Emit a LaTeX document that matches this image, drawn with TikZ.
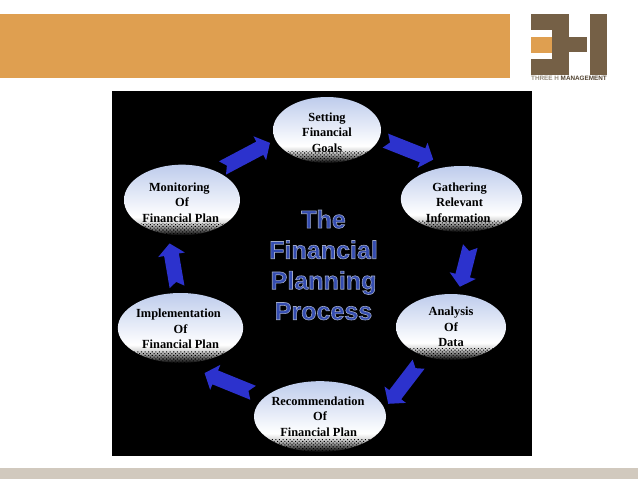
\documentclass[tikz,border=0pt]{standalone}
\usepackage{fontspec}
\setmainfont{Liberation Serif}
\newfontfamily\titlefont{Liberation Sans}
\usetikzlibrary{shapes.geometric,calc,patterns.meta}
\definecolor{bandorange}{RGB}{223,159,80}
\definecolor{bandgrey}{RGB}{209,201,190}
\definecolor{logobrown}{RGB}{117,96,70}
\definecolor{logogrey}{RGB}{150,140,125}
\definecolor{flowblue}{RGB}{44,50,205}
\definecolor{titleblue}{RGB}{52,76,176}
\definecolor{balltop}{RGB}{190,204,236}
\pgfdeclareverticalshading{ballfill}{100bp}{
  color(0bp)=(black);
  color(25bp)=(black);
  color(30bp)=(black!50);
  color(34bp)=(black!15);
  color(38bp)=(white);
  color(75bp)=(balltop);
  color(100bp)=(balltop)}
\def\pxu{0.75pt}
\tikzset{
  ball/.style={ellipse,shade,shading=ballfill,inner sep=0pt,align=center,
    text=black,font=\bfseries\fontsize{9.3}{11.7}\selectfont,
    path picture={\fill[pattern={Dots[distance=1.9pt,radius=.55pt,angle=45]},pattern color=black]
      ([yshift=9pt]path picture bounding box.south west) rectangle
      (path picture bounding box.south east);}},
  flowfill/.style={fill=flowblue}
}
\newcommand\blockarrow[4]{%
  \coordinate (ba) at ($(#1)!#3*\pxu!(#2)$);
  \coordinate (bt) at ($(#2)!#4*\pxu!(#1)$);
  \coordinate (bh) at ($(bt)!11.5*\pxu!(ba)$);
  \fill[flowfill] ($(ba)!7.5*\pxu!90:(bt)$) -- ($(bh)!7.5*\pxu!-90:(ba)$) -- ($(bh)!13.5*\pxu!-90:(ba)$)
    -- (bt) -- ($(bh)!13.5*\pxu!90:(ba)$) -- ($(bh)!7.5*\pxu!90:(ba)$) -- ($(ba)!7.5*\pxu!-90:(bt)$)
    -- ($(ba)!5*\pxu!(bt)$) -- cycle;
}
\begin{document}
\begin{tikzpicture}[x=0.75pt,y=-0.75pt]
\useasboundingbox (0,0) rectangle (638,479);
\fill[white] (0,0) rectangle (638,479);
\fill[bandorange] (0,14) rectangle (510,78);
\fill[bandgrey] (0,468) rectangle (638,479);
% logo
\fill[logobrown] (531,14) rectangle (569,30);
\fill[logobrown] (552,30) rectangle (569,59);
\fill[logobrown] (531,59) rectangle (569,75);
\fill[logobrown] (569,37) rectangle (587,52);
\fill[logobrown] (590,14) rectangle (607,75);
\fill[bandorange] (531,37) rectangle (552,53);
\node[inner sep=0pt,font=\titlefont\bfseries\fontsize{4.75}{5}\selectfont] (logotext) at (569,78.5)
  {\textcolor{logogrey}{THREE H} \textcolor{logobrown!70!black}{MANAGEMENT}};
% panel
\fill[black] (112,91) rectangle (532,456);
% stages
\node[ball,minimum width=81pt,minimum height=49.5pt] (set) at (327,130) {\rule{0pt}{10pt}Setting\\Financial\\Goals};
\node[ball,minimum width=91pt,minimum height=49.5pt] (gat) at (461.5,199) {\rule{0pt}{11.5pt}\hspace*{-3pt}Gathering\\\hspace*{-3pt}Relevant\\\hspace*{-5pt}Information};
\node[ball,minimum width=82.5pt,minimum height=49.5pt] (ana) at (451,327) {Analysis\\Of\\Data};
\node[ball,minimum width=99pt,minimum height=53pt] (rec) at (320,416.5) {\hspace*{-3pt}Recommendation\\Of\\\hspace*{-2pt}Financial Plan};
\node[ball,minimum width=94pt,minimum height=52.5pt] (imp) at (180.5,328) {\rule{0pt}{8pt}\hspace*{-3pt}Implementation\\Of\\Financial Plan};
\node[ball,minimum width=87pt,minimum height=53pt] (mon) at (182,200) {\rule{0pt}{10pt}\hspace*{-4pt}Monitoring\\Of\\\hspace*{-2pt}Financial Plan};
% title
\node[inner sep=0pt,align=center,text=titleblue,
  font=\titlefont\bfseries\fontsize{18.8}{22.9}\selectfont] (title) at (323.5,265)
  {\special{pdf:code 2 Tr 0.62 0.66 0.78 RG 0.45 w}The\\Financial\\Planning\\Process\special{pdf:code 0 Tr}};
% arrows
\blockarrow{set.-9.8}{gat.109.7}{6.3}{18.3}
\blockarrow{gat.-69.7}{ana.78.9}{15}{7.5}
\blockarrow{ana.-132}{rec.7}{10}{6}
\blockarrow{rec.161.7}{imp.-90}{12}{26}
\blockarrow{imp.94}{mon.-112}{6}{9}
\blockarrow{mon.40.5}{set.191}{7}{6}
\end{tikzpicture}
\end{document}
